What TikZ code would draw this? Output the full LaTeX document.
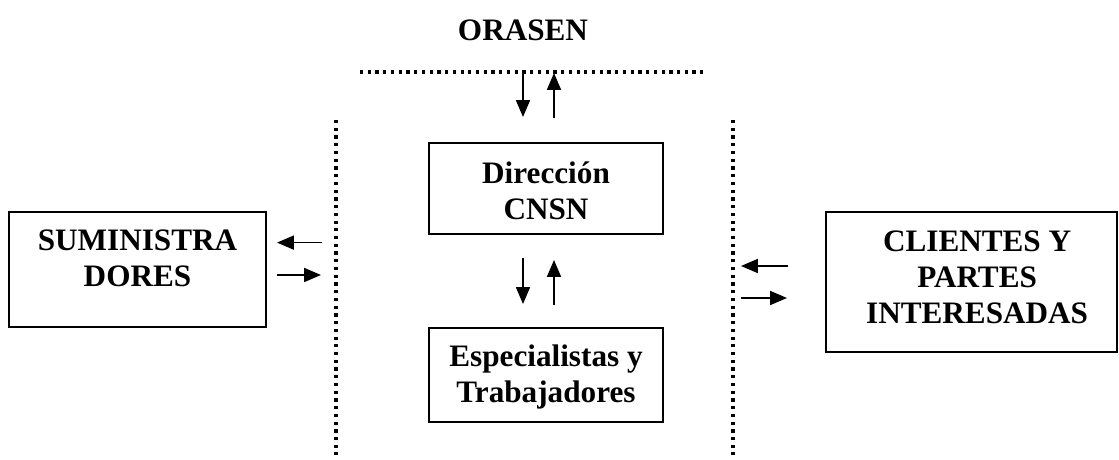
\documentclass[tikz,border=0pt]{standalone}
\usepackage{fontspec}
\setmainfont{Liberation Serif}
\usetikzlibrary{arrows.meta}

\tikzset{
  caja/.style={draw,line width=1.4pt,inner sep=0pt},
  txt/.style={font=\bfseries\fontsize{22.2}{25.6}\selectfont,align=center,inner sep=0pt},
  flecha/.style={line width=1pt,-{Triangle[length=12pt,width=10pt]}},
  punteada/.style={line width=2.6pt,dash pattern=on 2.3pt off 3.2pt}
}

\begin{document}
\begin{tikzpicture}
    \useasboundingbox (0,0) rectangle (27.975,11.475);

    % boxes
    \node[caja,minimum width=6.425cm,minimum height=2.875cm] (sumin) at (3.4375,4.7375) {};
    \node[caja,minimum width=5.85cm,minimum height=2.275cm] (dir) at (13.65,6.7625) {};
    \node[caja,minimum width=5.85cm,minimum height=2.35cm] (esp) at (13.65,2.1) {};
    \node[caja,minimum width=7.275cm,minimum height=3.5cm] (cli) at (24.2875,4.425) {};

    \node[txt] (sumtxt) at ([yshift=0.29cm]sumin.center) {SUMINISTRA\\DORES};
    \node[txt] (dirtxt) at ([yshift=-0.05cm]dir.center) {Direcci\'on\\CNSN};
    \node[txt] (esptxt) at ([yshift=-0.05cm]esp.center) {Especialistas y\\Trabajadores};
    \node[txt] (clitxt) at ([xshift=0.14cm,yshift=0.11cm]cli.center) {CLIENTES Y\\PARTES\\INTERESADAS};
    \node[txt,anchor=base] (orasen) at (13.075,10.475) {ORASEN};

    % dotted borders
    \coordinate (hA) at (9.0,9.675);
    \coordinate (hB) at (17.625,9.675);
    \coordinate (vlA) at (8.4,8.475);
    \coordinate (vlB) at (8.4,0.1);
    \coordinate (vrA) at (18.325,8.475);
    \coordinate (vrB) at (18.325,0.1);
    \draw[punteada] (hA) -- (hB);
    \draw[punteada] (vlA) -- (vlB);
    \draw[punteada] (vrA) -- (vrB);

    % arrow ends
    \coordinate (l1a) at (8.05,5.41);   \coordinate (l1b) at (6.925,5.41);
    \coordinate (l2a) at (6.925,4.6);   \coordinate (l2b) at (8.025,4.6);
    \coordinate (r1a) at (19.7,4.825);  \coordinate (r1b) at (18.525,4.825);
    \coordinate (r2a) at (18.525,4.025);\coordinate (r2b) at (19.675,4.025);
    \coordinate (m1a) at (13.075,5.025);\coordinate (m1b) at (13.075,3.875);
    \coordinate (m2a) at (13.85,3.85);  \coordinate (m2b) at (13.85,4.975);
    \coordinate (t1a) at (13.075,9.675);\coordinate (t1b) at (13.075,8.55);
    \coordinate (t2a) at (13.85,8.525); \coordinate (t2b) at (13.85,9.65);

    \draw[flecha] (l1a) -- (l1b);
    \draw[flecha] (l2a) -- (l2b);
    \draw[flecha] (r1a) -- (r1b);
    \draw[flecha] (r2a) -- (r2b);
    \draw[flecha] (m1a) -- (m1b);
    \draw[flecha] (m2a) -- (m2b);
    \draw[flecha] (t1a) -- (t1b);
    \draw[flecha] (t2a) -- (t2b);

\end{tikzpicture}
\end{document}
